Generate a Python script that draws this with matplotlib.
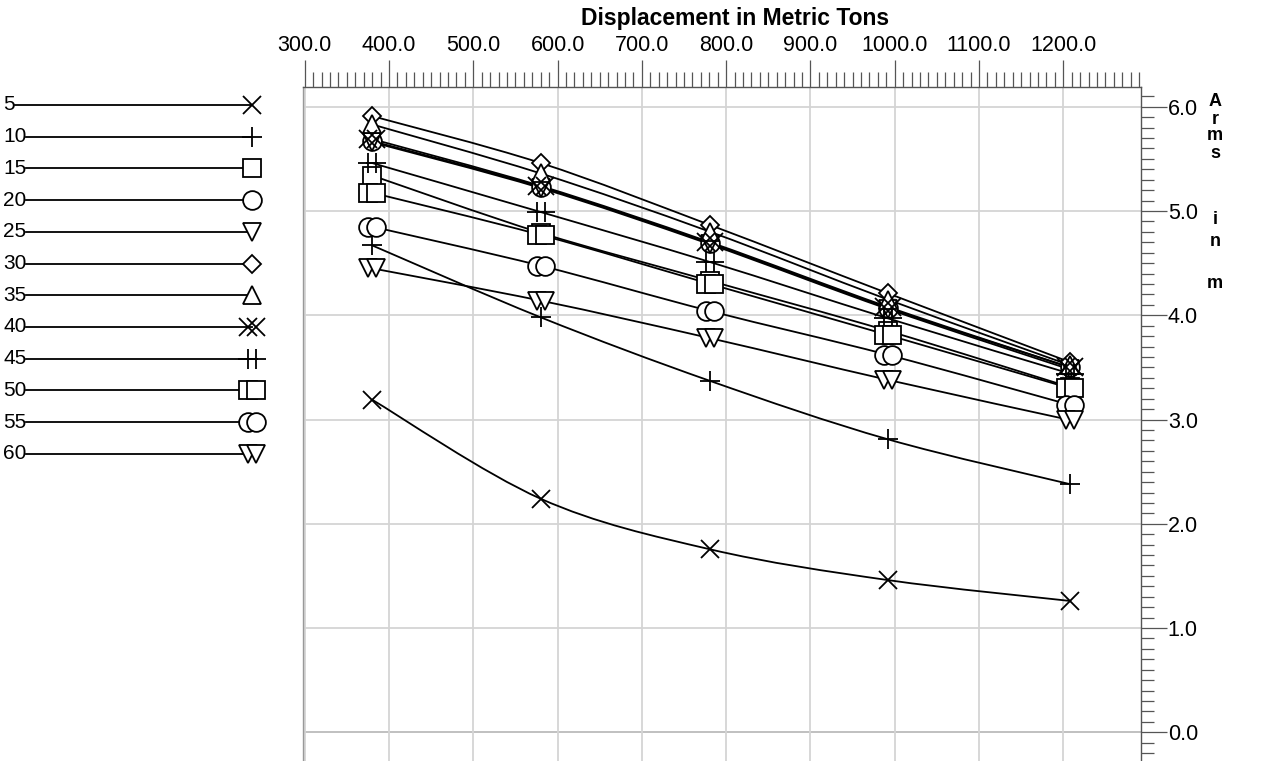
import matplotlib
matplotlib.use("Agg")
import matplotlib.pyplot as plt
from matplotlib.patches import PathPatch
from matplotlib.path import Path
from matplotlib.ticker import MultipleLocator, FormatStrFormatter
from matplotlib.transforms import ScaledTranslation

plt.rcParams['font.family'] = ['Liberation Sans', 'DejaVu Sans']

# displacement (t) at which the arms were computed
displacement = [380, 580, 781, 992, 1208]

# heel angles (deg) and their arms (m)
angles = [5, 10, 15, 20, 25, 30, 35, 40, 45, 50, 55, 60]
arms_5 = [3.19, 2.24, 1.755, 1.46, 1.26]
arms_10 = [4.67, 3.98, 3.37, 2.81, 2.38]
arms_15 = [5.34, 4.79, 4.33, 3.85, 3.31]
arms_20 = [5.67, 5.23, 4.69, 4.07, 3.50]
arms_25 = [5.66, 5.22, 4.68, 4.06, 3.48]
arms_30 = [5.91, 5.46, 4.865, 4.21, 3.55]
arms_35 = [5.83, 5.36, 4.80, 4.15, 3.52]
arms_40 = [5.69, 5.24, 4.70, 4.08, 3.50]
arms_45 = [5.46, 4.99, 4.51, 3.97, 3.44]
arms_50 = [5.175, 4.77, 4.30, 3.81, 3.30]
arms_55 = [4.85, 4.475, 4.04, 3.62, 3.14]
arms_60 = [4.45, 4.14, 3.78, 3.38, 2.995]

all_arms = [arms_5, arms_10, arms_15, arms_20, arms_25, arms_30,
            arms_35, arms_40, arms_45, arms_50, arms_55, arms_60]
markers = ['x', '+', 's', 'o', 'v', 'D', '^', 'x', '+', 's', 'o', 'v']
doubled = [False] * 7 + [True] * 5
marker_size = {'x': 13, '+': 14.5, 's': 13, 'o': 13.5, 'v': 13,
               'D': 9.2, '^': 13}

W, H = 1263, 761
fig = plt.figure(figsize=(W / 100, H / 100), dpi=100)


def smooth_path(xs, ys):
    """Catmull-Rom curve through the points, as cubic bezier segments."""
    pts = list(zip(xs, ys))
    ext = [pts[0]] + pts + [pts[-1]]
    verts = [pts[0]]
    codes = [Path.MOVETO]
    for i in range(len(pts) - 1):
        p0, p1, p2, p3 = ext[i], ext[i + 1], ext[i + 2], ext[i + 3]
        c1 = (p1[0] + (p2[0] - p0[0]) / 6, p1[1] + (p2[1] - p0[1]) / 6)
        c2 = (p2[0] - (p3[0] - p1[0]) / 6, p2[1] - (p3[1] - p1[1]) / 6)
        verts += [c1, c2, p2]
        codes += [Path.CURVE4] * 3
    return Path(verts, codes)


def draw_series(ax, xs, ys, marker, double):
    ax.add_patch(PathPatch(smooth_path(xs, ys), fill=False, ec='black',
                           lw=1.3, zorder=2))
    offsets = [-4.2, 4.2] if double else [0]
    for dx in offsets:
        shift = ScaledTranslation(dx / 100, 0, fig.dpi_scale_trans)
        ax.plot(xs, ys, ls='none', marker=marker, ms=marker_size[marker],
                mfc='white', mec='black', mew=1.3, zorder=3,
                transform=ax.transData + shift, clip_on=False)


# main chart
left, right, top = 303.3, 1140.7, 86.7
ax = fig.add_axes([left / W, 0, (right - left) / W, 1 - top / H])
ax.set_xlim(298.3, 1291.8)
ax.set_ylim(-0.275, 6.192)

ax.xaxis.tick_top()
ax.yaxis.tick_right()
ax.xaxis.set_major_locator(MultipleLocator(100))
ax.xaxis.set_minor_locator(MultipleLocator(10))
ax.yaxis.set_major_locator(MultipleLocator(1))
ax.yaxis.set_minor_locator(MultipleLocator(0.1))
ax.xaxis.set_major_formatter(FormatStrFormatter('%.1f'))
ax.yaxis.set_major_formatter(FormatStrFormatter('%.1f'))
ax.tick_params(which='major', length=19.2, width=0.9, color='#555555',
               labelsize=15.5, pad=3)
ax.tick_params(axis='x', which='minor', length=10.8, width=0.9,
               color='#555555')
ax.tick_params(axis='y', which='minor', length=9.5, width=0.9,
               color='#555555')
ax.tick_params(axis='y', which='major', length=18.5, pad=1)

ax.grid(True, which='major', color='#d4d4d4', lw=1.3, zorder=0)
ax.axhline(0, color='black', lw=1.3, zorder=1)
ax.spines['bottom'].set_visible(False)
ax.spines['left'].set_color('#999999')
ax.spines['top'].set_color('#555555')
ax.spines['right'].set_color('#555555')
for sp in ax.spines.values():
    sp.set_linewidth(1.0)

for arms, marker, double in zip(all_arms, markers, doubled):
    draw_series(ax, displacement, arms, marker, double)

fig.text(735 / W, 1 - 18 / H, 'Displacement in Metric Tons',
         ha='center', va='center', fontsize=16.5, fontweight='bold')

# vertical axis title, one letter per row
for letter, ypix in [('A', 101), ('r', 119), ('m', 136), ('s', 153),
                     ('i', 220), ('n', 241), ('m', 284)]:
    fig.text(1215 / W, 1 - ypix / H, letter, ha='center', va='center',
             fontsize=13, fontweight='bold')

# legend drawn in pixel space on the left
lax = fig.add_axes([0, 0, left / W, 1])
lax.set_xlim(0, left)
lax.set_ylim(H, 0)
lax.axis('off')
for i, (angle, marker, double) in enumerate(zip(angles, markers, doubled)):
    y = 105 + i * 31.7
    label = str(angle)
    lax.text(3, y, label, ha='left', va='center', fontsize=15)
    x0 = 3 + 11.5 * len(label)
    lax.plot([x0, 252], [y, y], color='black', lw=1.3)
    offsets = [-4.2, 4.2] if double else [0]
    for dx in offsets:
        lax.plot([252 + dx], [y], ls='none', marker=marker,
                 ms=marker_size[marker], mfc='white', mec='black', mew=1.3)

fig.savefig('out.png', dpi=100)
